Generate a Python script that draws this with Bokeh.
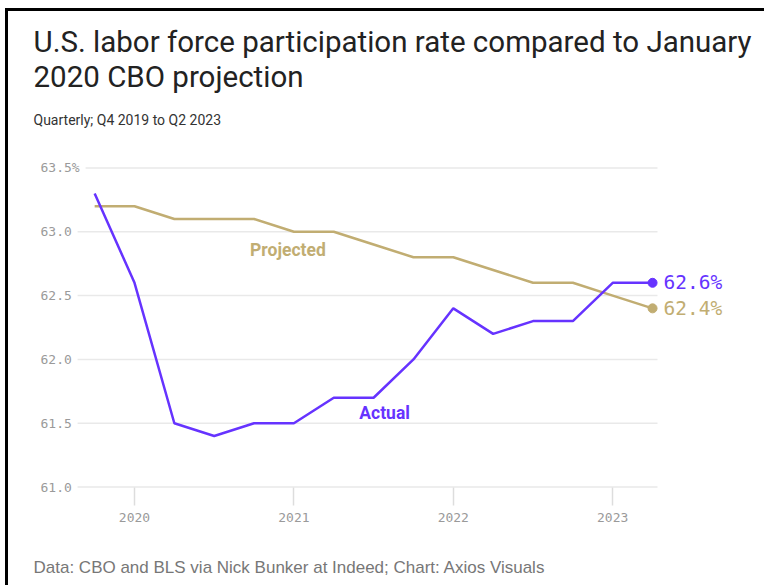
from bokeh.plotting import figure
from bokeh.models import Label, FixedTicker, Range1d, ColumnDataSource, Title, NumeralTickFormatter
from bokeh.embed import file_html
from bokeh.resources import INLINE

# ---- data ----
quarters = [2019.75, 2020.0, 2020.25, 2020.5, 2020.75, 2021.0, 2021.25, 2021.5,
            2021.75, 2022.0, 2022.25, 2022.5, 2022.75, 2023.0, 2023.25]
actual = [63.3, 62.6, 61.5, 61.4, 61.5, 61.5, 61.7, 61.7, 62.0, 62.4, 62.2, 62.3, 62.3, 62.6, 62.6]
projected = [63.2, 63.2, 63.1, 63.1, 63.1, 63.0, 63.0, 62.9, 62.8, 62.8, 62.7, 62.6, 62.6, 62.5, 62.4]
y_ticks = [61.0, 61.5, 62.0, 62.5, 63.0, 63.5]
y_labels = ["61.0", "61.5", "62.0", "62.5", "63.0", "63.5%"]
x_ticks = [2020, 2021, 2022, 2023]

title1 = "U.S. labor force participation rate compared to January"
title2 = "2020 CBO projection"
subtitle = "Quarterly; Q4 2019 to Q2 2023"
footer = "Data: CBO and BLS via Nick Bunker at Indeed; Chart: Axios Visuals"

PURPLE = "#6633ff"
GOLD = "#c1ad72"
MONO = "DejaVu Sans Mono"
GRID = "#e9e9e9"
TICKTXT = "#9a9a9a"

p = figure(width=759, height=577, output_backend="svg", toolbar_location=None,
           x_range=Range1d(2019.2095, 2023.9711), y_range=Range1d(60.95, 64.7247),
           min_border_left=0, min_border_right=0, min_border_top=0, min_border_bottom=95,
           styles={"margin-left": "5px", "margin-top": "8px",
                   "border-top": "3px solid #000", "border-left": "3px solid #000"})
p.outline_line_color = None
p.background_fill_color = "white"
p.border_fill_color = "white"
p.grid.grid_line_color = None
p.yaxis.visible = False

# horizontal grid lines (from the tick values)
pad_l = 0.107
pad_r = 0.031
gx0 = [quarters[0] - pad_l + (0.05 if lab.endswith("%") else 0.0) for lab in y_labels]
gx1 = [quarters[-1] + pad_r] * len(y_ticks)
p.segment(x0=gx0, y0=y_ticks, x1=gx1, y1=y_ticks, line_color=GRID, line_width=1.5)

# y tick labels, left-aligned
p.text(x=[p.x_range.start] * len(y_ticks), y=y_ticks, text=y_labels, x_offset=32,
       text_font={"value": MONO}, text_font_size="13px",
       text_color=TICKTXT, text_align="left", text_baseline="middle")

# x axis
p.xaxis.ticker = FixedTicker(ticks=x_ticks)
p.xaxis.formatter = NumeralTickFormatter(format="0")
p.xaxis.axis_line_color = None
p.xaxis.major_tick_line_color = "#dddddd"
p.xaxis.major_tick_line_width = 1.5
p.xaxis.major_tick_in = 6
p.xaxis.major_tick_out = 12
p.xaxis.minor_tick_line_color = None
p.xaxis.major_label_text_font = MONO
p.xaxis.major_label_text_font_size = "13px"
p.xaxis.major_label_text_color = TICKTXT
p.xaxis.major_label_standoff = 7

src = ColumnDataSource(dict(x=quarters, actual=actual, projected=projected))
p.line("x", "projected", source=src, line_color=GOLD, line_width=2.5)
p.line("x", "actual", source=src, line_color=PURPLE, line_width=2.5)

end_src = ColumnDataSource(dict(
    x=[quarters[-1], quarters[-1]],
    y=[actual[-1], projected[-1]],
    txt=[f"{actual[-1]:.1f}%", f"{projected[-1]:.1f}%"],
    c=[PURPLE, GOLD]))
p.scatter("x", "y", source=end_src, size=9, color="c")
p.text("x", "y", text="txt", source=end_src, x_offset=11, text_color="c",
       text_font={"value": MONO}, text_font_size="19.5px",
       text_align="left", text_baseline="middle")

# series labels
p.add_layout(Label(x=quarters[5], y=projected[5], x_offset=-6, y_offset=-18, text="Projected",
                   text_font="Roboto", text_font_size="17.5px", text_font_style="bold",
                   text_color=GOLD, text_baseline="middle", text_align="center"))
p.add_layout(Label(x=quarters[7], y=actual[7], x_offset=11, y_offset=-15, text="Actual",
                   text_font="Roboto", text_font_size="17.5px", text_font_style="bold",
                   text_color=PURPLE, text_baseline="middle", text_align="center"))

# titles (screen units, relative to the frame)
p.add_layout(Label(x=25, y=452, x_units="screen", y_units="screen", text=title1,
                   text_font="Roboto", text_font_size="29.5px", text_color="#222222",
                   text_baseline="alphabetic", text_align="left"))
p.add_layout(Label(x=25, y=417, x_units="screen", y_units="screen", text=title2,
                   text_font="Roboto", text_font_size="29.5px", text_color="#222222",
                   text_baseline="alphabetic", text_align="left"))
p.add_layout(Label(x=25, y=374, x_units="screen", y_units="screen", text=subtitle,
                   text_font="Roboto", text_font_size="14px", text_color="#333333",
                   text_baseline="alphabetic", text_align="left"))

# spacer between the x axis and the source line, then the source line
p.add_layout(Title(text=" ", standoff=23, text_font_size="1px"), "below")
p.add_layout(Title(text=footer, align="left", offset=25, standoff=10,
                   text_font="Liberation Sans", text_font_size="17px",
                   text_font_style="normal", text_color="#777777"), "below")

open("out.html", "w").write(file_html(p, INLINE))
